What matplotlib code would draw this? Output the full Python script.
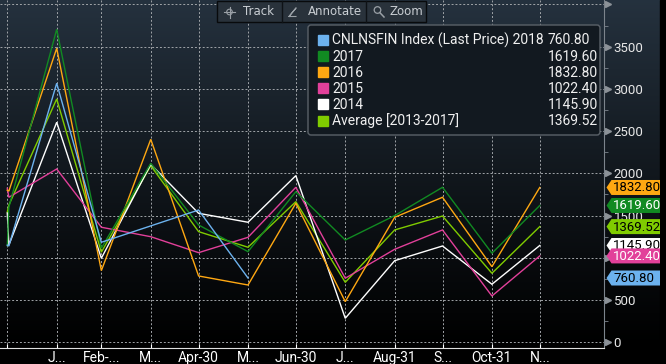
import numpy as np
import matplotlib
matplotlib.use("Agg")
import matplotlib.pyplot as plt
import matplotlib.transforms as mtransforms
from matplotlib.patches import Polygon, FancyBboxPatch, Rectangle, Circle
from datetime import datetime, timedelta

# ---- data ----
dates = ["2017-12-31", "2018-01-01", "2018-01-31", "2018-02-28", "2018-03-31",
         "2018-04-30", "2018-05-31", "2018-06-30", "2018-07-31", "2018-08-31",
         "2018-09-30", "2018-10-31", "2018-11-30"]
s2018 = [1150, 1140, 3067, 1184, 1378, 1566, 760.8]
s2017 = [1144, 1600, 3706, 1113, 2119, 1389, 1073, 1783, 1211, 1500, 1835, 1054, 1619.6]
s2016 = [1800, 1790, 3481, 848, 2403, 785, 678, 1646, 481, 1480, 1717, 895, 1832.8]
s2015 = [1824, 1717, 2052, 1362, 1250, 1061, 1243, 1835, 758, 1101, 1330, 548, 1022.4]
s2014 = [1530, 1152, 2605, 995, 2107, 1527, 1421, 1973, 284, 966, 1140, 687, 1145.9]
s_avg = [1540, 1625, 2881, 1066, 2091, 1310, 1125, 1665, 710, 1330, 1495, 817, 1369.52]

legend_names = ["CNLNSFIN Index (Last Price) 2018", "2017", "2016", "2015", "2014",
                "Average [2013-2017]"]
last_labels = ["760.80", "1619.60", "1832.80", "1022.40", "1145.90", "1369.52"]

tick_dates = ["2017-12-31", "2018-01-31", "2018-02-28", "2018-03-31", "2018-04-30",
              "2018-05-31", "2018-06-30", "2018-07-31", "2018-08-31", "2018-09-30",
              "2018-10-31", "2018-11-30"]
tick_labels = ["", "J...", "Feb-...", "M...", "Apr-30", "M...", "Jun-30", "J...",
               "Aug-31", "S...", "Oct-31", "N..."]
y_ticks = list(range(0, 4001, 500))

# colours
c_blue, c_green, c_orange = "#6cb2ee", "#118a22", "#ffa812"
c_pink, c_white, c_avg = "#e2409a", "#ffffff", "#80cc00"

plt.rcParams["font.family"] = ["Roboto", "DejaVu Sans"]
FS = 9.5

W, H = 666, 364
fig = plt.figure(figsize=(W / 100, H / 100), dpi=100)

# background gradient
bg = fig.add_axes([0, 0, 1, 1], zorder=-10)
bg.axis("off")
t = np.clip(np.arange(H) / 348.0, 0, 1)[:, None]
top = np.array([0.145, 0.195, 0.245])
img = (top[None, None, :] * (1 - t[:, :, None]) ** 1.1)
bg.imshow(np.repeat(img, 2, axis=1), aspect="auto", extent=[0, 1, 0, 1])

ax = fig.add_axes([0, 16 / H, 604 / W, 348 / H])
ax.set_facecolor("none")

x = [datetime.strptime(d, "%Y-%m-%d") for d in dates]
xt = [datetime.strptime(d, "%Y-%m-%d") for d in tick_dates]

series = [(s_avg, c_avg, 2), (s2014, c_white, 3), (s2015, c_pink, 4),
          (s2016, c_orange, 5), (s2017, c_green, 6), (s2018, c_blue, 7)]
for vals, col, z in series:
    ax.plot(x[:len(vals)], vals, color=col, lw=1.0, zorder=z, solid_joinstyle="miter")

ax.set_xlim(x[0] - timedelta(days=4.57), x[-1] + timedelta(days=40.3))
ax.set_ylim(-68, 4053)

ax.set_xticks(xt)
ax.set_xticklabels(tick_labels)
ax.set_yticks(y_ticks)
ax.set_yticklabels([str(v) for v in y_ticks[:-1]] + [""])
ax.set_yticks(list(range(250, 4000, 500)), minor=True)
ax.yaxis.tick_right()

for s in ["top", "left"]:
    ax.spines[s].set_visible(False)
ax.spines["bottom"].set_color("#e0e0e0")
ax.spines["right"].set_color("#7c848c")

ax.tick_params(axis="x", length=3, direction="in", color="white", labelcolor="white",
               labelsize=10, pad=2.5)
ax.tick_params(axis="y", which="major", length=0, pad=7, labelcolor="#e8e8e8",
               labelsize=FS)
ax.tick_params(axis="y", which="minor", length=3, direction="out", color="#7c848c")
ax.grid(True, color="#a0a4a8", ls=(0, (2, 2)), lw=0.7)

trans = mtransforms.blended_transform_factory(ax.transAxes, ax.transData)
ax.plot([1.007] * len(y_ticks), y_ticks, ls="none", marker=">", ms=5,
        color="#8c9298", transform=trans, clip_on=False)

# overlay in pixel coordinates
ov = fig.add_axes([0, 0, 1, 1], zorder=10)
ov.set_xlim(0, W)
ov.set_ylim(H, 0)
ov.axis("off")
ov.set_facecolor("none")

ov.add_patch(Rectangle((660, 0), 6, H, color="black", zorder=0))

# value tags on the right
def ypix(v):
    return H - ax.transData.transform((0, v))[1]

tags = [(s2016[-1], c_orange, "black", "1832.80"), (s2017[-1], c_green, "white", "1619.60"),
        (s_avg[-1], c_avg, "black", "1369.52"), (s2014[-1], c_white, "black", "1145.90"),
        (s2015[-1], c_pink, "white", "1022.40"), (s2018[-1], c_blue, "black", "760.80")]
for i, (v, col, tc, txt) in enumerate(tags):
    yc = ypix(v)
    h = 7.5
    poly = Polygon([(606.5, yc), (611.5, yc - h), (660, yc - h), (660, yc + h),
                    (611.5, yc + h)], closed=True, fc=col, ec="none", zorder=20 + i)
    ov.add_patch(poly)
    ov.text(613, yc + 0.5, txt, color=tc, fontsize=FS, ha="left",
            va="center", zorder=20 + i, clip_on=True, clip_path=poly)

# legend box
ov.add_patch(FancyBboxPatch((308, 25), 292, 110, boxstyle="round,pad=0,rounding_size=3",
                            fc="#121920", ec="#5a6168", lw=1, zorder=15))
leg_cols = [c_blue, c_green, c_orange, c_pink, c_white, c_avg]
for i, (nm, val, col) in enumerate(zip(legend_names, last_labels, leg_cols)):
    yc = 40 + i * 16.1
    ov.add_patch(Rectangle((318, yc - 5), 9.5, 10, color=col, zorder=16))
    ov.text(332, yc + 0.5, nm, color="#f0f0f0", fontsize=10, va="center", ha="left", zorder=16)
    ov.text(548, yc + 0.5, val, color="#f0f0f0", fontsize=10, va="center", ha="left", zorder=16)

# toolbar
ov.add_patch(Rectangle((217, 0.5), 209, 21.5, fc="#29323b", ec="#080a0c", lw=1, zorder=15))
for sx in (282, 366):
    ov.plot([sx, sx], [1, 21.5], color="#0e1216", lw=1, zorder=16)
tb = dict(color="#c9ced3", fontsize=8.5, va="center", ha="left", zorder=16,
          family="DejaVu Sans")
ov.text(243, 11.5, "Track", **tb)
ov.text(308, 11.5, "Annotate", **tb)
ov.text(390, 11.5, "Zoom", **tb)
# icons
ov.add_patch(Circle((229.5, 12), 2.8, fill=False, ec="#9aa0a6", lw=0.8, zorder=16))
ov.plot([224, 235], [12, 12], color="#9aa0a6", lw=0.8, zorder=16)
ov.plot([229.5, 229.5], [6.5, 17.5], color="#9aa0a6", lw=0.8, zorder=16)
ov.plot([289, 296, 289, 296], [16.5, 8, 16.5, 16.5], color="#9aa0a6", lw=0.8, zorder=16)
ov.add_patch(Circle((377.5, 10), 3.3, fill=False, ec="#9aa0a6", lw=0.9, zorder=16))
ov.plot([380, 384], [12.8, 17], color="#9aa0a6", lw=1.1, zorder=16)

fig.savefig("out.png", dpi=100)
